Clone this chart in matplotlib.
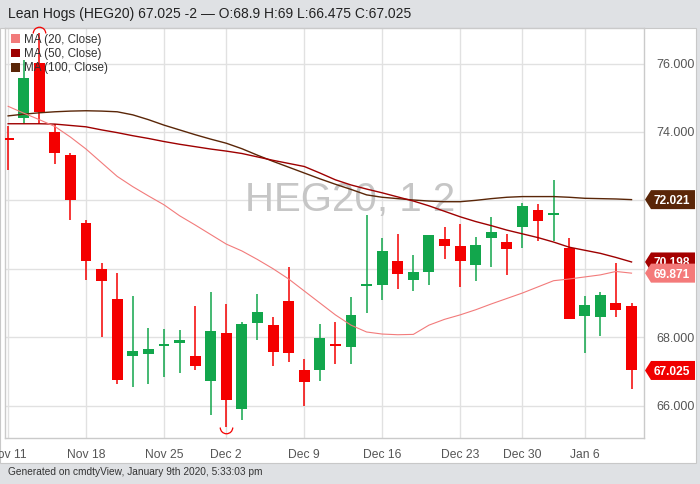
import matplotlib
matplotlib.use("Agg")
import matplotlib.pyplot as plt
import numpy as np
from matplotlib.patches import Patch, Polygon, Rectangle
from matplotlib.path import Path
import matplotlib.transforms as mtransforms

plt.rcParams['font.family'] = ['Liberation Sans', 'DejaVu Sans']

# ---------------- data ----------------
dates = ["Nov 11", "Nov 12", "Nov 13", "Nov 14", "Nov 15",
         "Nov 18", "Nov 19", "Nov 20", "Nov 21", "Nov 22",
         "Nov 25", "Nov 26", "Nov 27", "Nov 29",
         "Dec 2", "Dec 3", "Dec 4", "Dec 5", "Dec 6",
         "Dec 9", "Dec 10", "Dec 11", "Dec 12", "Dec 13",
         "Dec 16", "Dec 17", "Dec 18", "Dec 19", "Dec 20",
         "Dec 23", "Dec 24", "Dec 26", "Dec 27",
         "Dec 30", "Dec 31", "Jan 2", "Jan 3",
         "Jan 6", "Jan 7", "Jan 8", "Jan 9"]

opens = [73.80, 74.41, 76.02, 74.01, 73.34,
         71.34, 70.00, 69.12, 67.46, 67.50,
         67.75, 67.83, 67.46, 66.71,
         68.12, 65.91, 68.42, 68.35, 69.06,
         67.05, 67.03, 67.77, 67.70, 69.49,
         69.53, 70.22, 69.66, 69.89, 70.87,
         70.67, 70.11, 70.89, 70.77,
         71.23, 71.72, 71.58, 70.60,
         68.62, 68.60, 69.01, 68.90]
highs = [74.17, 76.10, 76.90, 74.24, 73.39,
         71.42, 70.17, 69.88, 69.20, 68.27,
         68.24, 68.20, 68.90, 69.31,
         68.98, 68.44, 69.27, 68.59, 70.04,
         67.35, 68.37, 68.44, 69.18, 71.56,
         70.90, 71.02, 70.39, 71.00, 71.22,
         71.31, 70.92, 71.51, 71.02,
         71.92, 71.89, 72.60, 70.90,
         69.21, 69.33, 70.18, 69.00]
lows = [72.90, 74.24, 74.22, 73.05, 71.42,
        69.66, 68.00, 66.64, 66.55, 66.64,
        66.84, 66.94, 67.03, 65.73,
        65.36, 65.57, 67.91, 67.17, 67.28,
        66.00, 66.71, 67.21, 67.21, 68.71,
        69.08, 69.41, 69.34, 69.53, 70.29,
        69.46, 69.63, 70.05, 69.82,
        70.60, 70.82, 70.82, 68.54,
        67.55, 68.02, 68.60, 66.475]
closes = [73.76, 75.58, 74.58, 73.38, 72.00,
          70.24, 69.63, 66.76, 67.58, 67.66,
          67.81, 67.93, 67.15, 68.17,
          66.15, 68.39, 68.73, 67.57, 67.54,
          66.70, 67.98, 67.73, 68.65, 69.53,
          70.51, 69.86, 69.91, 70.98, 70.67,
          70.24, 70.70, 71.06, 70.57,
          71.82, 71.41, 71.62, 68.54,
          68.94, 69.24, 68.78, 67.025]

ma20 = [74.75, 74.55, 74.36, 74.16, 73.85,
        73.50, 73.10, 72.70, 72.40, 72.13,
        71.87, 71.55, 71.28, 71.00,
        70.72, 70.52, 70.27, 70.00, 69.70,
        69.35, 69.00, 68.65, 68.35, 68.15,
        68.09, 68.07, 68.08, 68.35, 68.52,
        68.65, 68.80, 68.97, 69.13,
        69.29, 69.47, 69.65, 69.70,
        69.76, 69.82, 69.92, 69.871]
ma50 = [74.24, 74.24, 74.24, 74.23, 74.19,
        74.15, 74.06, 73.98, 73.89, 73.81,
        73.72, 73.64, 73.57, 73.50,
        73.44, 73.37, 73.27, 73.17, 73.08,
        72.99, 72.80, 72.60, 72.45, 72.33,
        72.22, 72.10, 71.98, 71.84, 71.68,
        71.52, 71.38, 71.26, 71.13,
        71.02, 70.91, 70.78, 70.63,
        70.54, 70.45, 70.33, 70.198]
ma100 = [74.47, 74.52, 74.56, 74.59, 74.61,
         74.62, 74.61, 74.59, 74.50, 74.36,
         74.20, 74.06, 73.92, 73.79,
         73.67, 73.51, 73.32, 73.14, 72.97,
         72.80, 72.63, 72.47, 72.32, 72.16,
         72.09, 72.05, 72.01, 71.98, 71.96,
         71.96, 72.00, 72.05, 72.09,
         72.11, 72.11, 72.11, 72.09,
         72.06, 72.05, 72.04, 72.021]

tick_dates = ["Nov 11", "Nov 18", "Nov 25", "Dec 2", "Dec 9",
              "Dec 16", "Dec 23", "Dec 30", "Jan 6"]
y_ticks = [66, 68, 70, 72, 74, 76]
y_tick_labels = ["66.000", "68.000", "", "", "74.000", "76.000"]
ma_labels = ["MA (20, Close)", "MA (50, Close)", "MA (100, Close)"]
title = "Lean Hogs (HEG20) 67.025 -2 \u2014 O:68.9 H:69 L:66.475 C:67.025"
footer = "Generated on cmdtyView, January 9th 2020, 5:33:03 pm"
watermark = "HEG20, 1 2"

# ---------------- style ----------------
GREEN = '#12a64c'
RED = '#f40000'
C20 = '#f27b7b'
C50 = '#9e0000'
C100 = '#5a2608'

W, H = 700, 484
fig = plt.figure(figsize=(W / 100, H / 100), dpi=100)
fig.patch.set_facecolor('#dfe1e4')
fig.add_artist(Rectangle((0, 21 / H), 696 / W, (463 - 28) / H,
                         transform=fig.transFigure, facecolor='white',
                         edgecolor='#c8c8c8', lw=0.8, zorder=-10))

ax = fig.add_axes([5 / W, 46 / H, 639 / W, 410 / H])
ax.set_facecolor('white')

x = np.arange(len(dates))
o = np.array(opens); c = np.array(closes)
hi = np.array(highs); lo = np.array(lows)
up = c >= o
cols = np.where(up, GREEN, RED)

# wicks
ax.vlines(x, lo, hi, colors=cols, lw=1.1, zorder=3)
# bodies
bottoms = np.minimum(o, c)
heights = np.maximum(np.abs(c - o), 0.06)
ax.bar(x, heights, bottom=bottoms, width=0.7, color=cols, zorder=4, linewidth=0)

# moving averages
ax.plot(x, ma100, color=C100, lw=1.0, zorder=5)
ax.plot(x, ma50, color=C50, lw=1.0, zorder=5)
ax.plot(x, ma20, color=C20, lw=0.8, zorder=5)

# high / low arcs
imax = int(np.argmax(hi)); imin = int(np.argmin(lo))
ax.plot([imax], [hi[imax]], marker=Path.arc(0, 180), markersize=9,
        markerfacecolor='none', markeredgecolor=RED, mew=0.9, zorder=6,
        clip_on=False)
ax.plot([imin], [lo[imin]], marker=Path.arc(180, 360), markersize=9,
        markerfacecolor='none', markeredgecolor=RED, mew=0.9, zorder=6,
        clip_on=False)

# watermark
ax.text(0.54, 0.58, watermark, transform=ax.transAxes, fontsize=29,
        color='#c6c6c6', ha='center', va='center', zorder=1)

# axes setup
ax.set_xlim(-0.2, 40.8)
ax.set_ylim(65.05, 77.04)
ax.set_xticks([dates.index(d) for d in tick_dates])
ax.set_xticklabels(tick_dates)
ax.set_yticks(y_ticks)
ax.set_yticklabels(y_tick_labels)
ax.yaxis.tick_right()
ax.tick_params(axis='y', length=0, pad=9, labelsize=9, labelcolor='#555555')
ax.tick_params(axis='x', length=0, pad=8, labelsize=8.7, labelcolor='#555555')
ax.grid(True, color='#e1e1e1', lw=1.0, zorder=0)
ax.set_axisbelow(True)
for s in ax.spines.values():
    s.set_color('#cacaca')
    s.set_linewidth(1.0)

# legend
handles = [Patch(facecolor=col, edgecolor='none', label=l)
           for col, l in zip([C20, C50, C100], ma_labels)]
leg = ax.legend(handles=handles, loc='upper left', frameon=False, fontsize=8.4,
                handlelength=0.75, handleheight=0.75, handletextpad=0.35,
                labelspacing=0.2, borderaxespad=0.3, borderpad=0.2)
for t in leg.get_texts():
    t.set_color('#333333')
leg.set_zorder(10)

# price tags on right axis
blend = mtransforms.blended_transform_factory(ax.transAxes, ax.transData)
tag_vals = [ma100[-1], ma50[-1], ma20[-1], closes[-1]]
tag_cols = [C100, '#a50000', '#f47a7a', '#f00000']
shape = [(1, 0), (7, -9.5), (51, -9.5), (51, 9.5), (7, 9.5)]
for z, (v, col) in enumerate(zip(tag_vals, tag_cols)):
    anchor = mtransforms.ScaledTranslation(1.0, v, blend)
    poly = Polygon(shape, closed=True, facecolor=col, edgecolor='none',
                   transform=mtransforms.Affine2D() + anchor, zorder=20 + 2 * z)
    fig.add_artist(poly)
    fig.text(0, 0, f"{v:.3f}", transform=mtransforms.Affine2D().translate(28, 0) + anchor,
             ha='center', va='center_baseline', color='white', fontweight='bold',
             fontsize=8.6, zorder=21 + 2 * z)

# header & footer
fig.text(8 / W, 1 - 14 / H, title, fontsize=10, color='#222222', va='center', ha='left')
fig.text(8 / W, 1 - 472 / H, footer, fontsize=7.3, color='#333333', va='center', ha='left')

fig.savefig("out.png", dpi=100, facecolor=fig.get_facecolor())
